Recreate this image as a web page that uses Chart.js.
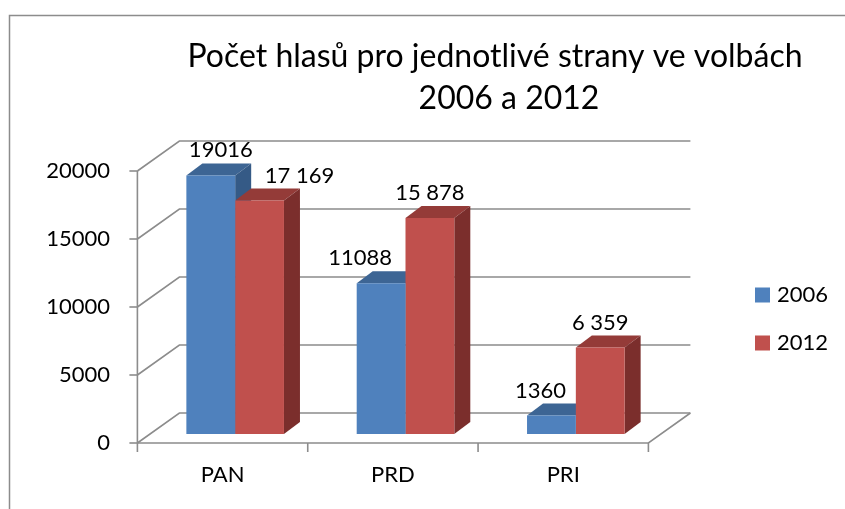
<!DOCTYPE html>
<html>
<head>
<meta charset="utf-8">
<script src="https://cdn.jsdelivr.net/npm/chart.js@4/dist/chart.umd.min.js"></script>
<style>
  body { margin: 0; background: #fff; }
  #wrap { width: 845px; height: 509px; position: relative; }
</style>
</head>
<body>
<div id="wrap"><canvas id="myChart"></canvas></div>
<script>
var parties = ['PAN', 'PRD', 'PRI'];
var years = ['2006', '2012'];
var votes2006 = [19016, 11088, 1360];
var votes2012 = [17169, 15878, 6359];
var yTicks = [0, 5000, 10000, 15000, 20000];
var titleLines = ['Počet hlasů pro jednotlivé strany ve volbách', '2006 a 2012'];

var FONT = 'Lato, "Open Sans", sans-serif';
var GRID = '#8c8c8c';

// offsets of the front and back planes from the plane the bars stand in
var plane = { fx: -12.6, fy: 9, bx: 29.4, by: -21 };
// depth of a single bar
var barDepth = { dx: 16, dy: 12 };

function fmtSpaced(v) {
    return String(v).replace(/\B(?=(\d{3})+(?!\d))/g, ' ');
}

var frame3d = {
    id: 'frame3d',
    beforeDatasetsDraw: function (chart) {
        var ctx = chart.ctx, a = chart.chartArea, x = chart.scales.x, y = chart.scales.y;
        ctx.save();
        ctx.strokeStyle = GRID;
        ctx.lineWidth = 1.6;

        // side wall + back wall gridlines
        yTicks.forEach(function (v) {
            var py = y.getPixelForValue(v);
            ctx.beginPath();
            ctx.moveTo(a.left + plane.fx, py + plane.fy);
            ctx.lineTo(a.left + plane.bx, py + plane.by);
            ctx.lineTo(a.right + plane.bx, py + plane.by);
            ctx.stroke();
            // tick mark on the front axis
            ctx.beginPath();
            ctx.moveTo(a.left + plane.fx - 8, py + plane.fy);
            ctx.lineTo(a.left + plane.fx, py + plane.fy);
            ctx.stroke();
        });

        var p0 = y.getPixelForValue(0);
        var pTop = y.getPixelForValue(yTicks[yTicks.length - 1]);
        // floor front and right edges
        ctx.beginPath();
        ctx.moveTo(a.left + plane.fx, p0 + plane.fy);
        ctx.lineTo(a.right + plane.fx, p0 + plane.fy);
        ctx.lineTo(a.right + plane.bx, p0 + plane.by);
        ctx.stroke();
        // value axis line
        ctx.beginPath();
        ctx.moveTo(a.left + plane.fx, pTop + plane.fy);
        ctx.lineTo(a.left + plane.fx, p0 + plane.fy);
        ctx.stroke();
        // category tick marks
        var band = x.getPixelForValue(1) - x.getPixelForValue(0);
        for (var i = 0; i <= parties.length; i++) {
            var px = x.getPixelForValue(i) - band / 2 + plane.fx;
            ctx.beginPath();
            ctx.moveTo(px, p0 + plane.fy);
            ctx.lineTo(px, p0 + plane.fy + 9);
            ctx.stroke();
        }

        // top and side faces of the bars (front faces are drawn by Chart.js afterwards)
        chart.data.datasets.forEach(function (ds, d) {
            chart.getDatasetMeta(d).data.forEach(function (bar) {
                var p = bar.getProps(['x', 'y', 'base', 'width'], true);
                var l = p.x - p.width / 2, r = p.x + p.width / 2;
                ctx.fillStyle = ds.topColor;
                ctx.beginPath();
                ctx.moveTo(l, p.y);
                ctx.lineTo(r, p.y);
                ctx.lineTo(r + barDepth.dx, p.y - barDepth.dy);
                ctx.lineTo(l + barDepth.dx, p.y - barDepth.dy);
                ctx.closePath();
                ctx.fill();
                ctx.fillStyle = ds.sideColor;
                ctx.beginPath();
                ctx.moveTo(r, p.y);
                ctx.lineTo(r + barDepth.dx, p.y - barDepth.dy);
                ctx.lineTo(r + barDepth.dx, p.base - barDepth.dy);
                ctx.lineTo(r, p.base);
                ctx.closePath();
                ctx.fill();
            });
        });
        ctx.restore();
    },
    afterDatasetsDraw: function (chart) {
        var ctx = chart.ctx;
        ctx.save();
        ctx.fillStyle = '#000';
        ctx.font = '22px ' + FONT;
        ctx.textAlign = 'center';
        ctx.textBaseline = 'middle';
        chart.data.datasets.forEach(function (ds, d) {
            chart.getDatasetMeta(d).data.forEach(function (bar, i) {
                var v = ds.data[i];
                var txt = ds.spacedLabels ? fmtSpaced(v) : String(v);
                ctx.fillText(txt, bar.x + ds.labelNudge[i], bar.y - 25);
            });
        });
        ctx.restore();
    },
    afterDraw: function (chart) {
        var ctx = chart.ctx;
        ctx.save();
        // outer frame
        ctx.strokeStyle = '#8c8c8c';
        ctx.lineWidth = 1.5;
        ctx.beginPath();
        ctx.moveTo(9.5, chart.height);
        ctx.lineTo(9.5, 15.5);
        ctx.lineTo(chart.width, 15.5);
        ctx.stroke();

        // title
        ctx.fillStyle = '#000';
        ctx.font = '32px ' + FONT;
        ctx.textAlign = 'center';
        ctx.textBaseline = 'alphabetic';
        ctx.fillText(titleLines[0], 495, 67);
        ctx.fillText(titleLines[1], 509, 109);

        // legend
        ctx.font = '22px ' + FONT;
        ctx.textAlign = 'left';
        ctx.textBaseline = 'middle';
        chart.data.datasets.forEach(function (ds, d) {
            var cy = 295 + d * 48;
            ctx.fillStyle = ds.backgroundColor;
            ctx.fillRect(755, cy - 7.5, 15, 15);
            ctx.fillStyle = '#000';
            ctx.fillText(ds.label, 777, cy);
        });
        ctx.restore();
    }
};

var ctx = document.getElementById('myChart').getContext('2d');
var chart = new Chart(ctx, {
    type: 'bar',
    data: {
        labels: parties,
        datasets: [{
            label: years[0],
            data: votes2006,
            backgroundColor: '#4f81bd',
            topColor: '#3d6594',
            sideColor: '#355a86',
            spacedLabels: false,
            labelNudge: [10, -21, -11],
            barPercentage: 1.0,
            categoryPercentage: 0.573
        }, {
            label: years[1],
            data: votes2012,
            backgroundColor: '#c0504d',
            topColor: '#943b38',
            sideColor: '#7b2e2c',
            spacedLabels: true,
            labelNudge: [40, 0, 0],
            barPercentage: 1.0,
            categoryPercentage: 0.573
        }]
    },
    options: {
        responsive: true,
        maintainAspectRatio: false,
        animation: false,
        layout: {
            padding: { left: 0, top: 162, right: 184, bottom: 0 }
        },
        scales: {
            x: {
                grid: { display: false, drawTicks: false },
                border: { display: false },
                ticks: {
                    color: '#000',
                    padding: 28,
                    labelOffset: plane.fx,
                    font: { family: FONT, size: 22 }
                },
                afterFit: function (s) { s.height = 75; }
            },
            y: {
                min: 0,
                max: 20000,
                afterBuildTicks: function (s) {
                    s.ticks = yTicks.map(function (v) { return { value: v }; });
                },
                grid: { display: false, drawTicks: false },
                border: { display: false },
                ticks: {
                    color: '#000',
                    padding: 40,
                    labelOffset: plane.fy,
                    font: { family: FONT, size: 22 },
                    callback: function (v) { return String(v); }
                },
                afterFit: function (s) { s.width = 150; }
            }
        },
        plugins: {
            legend: { display: false },
            title: { display: false },
            tooltip: { enabled: false }
        }
    },
    plugins: [frame3d]
});
</script>
</body>
</html>
